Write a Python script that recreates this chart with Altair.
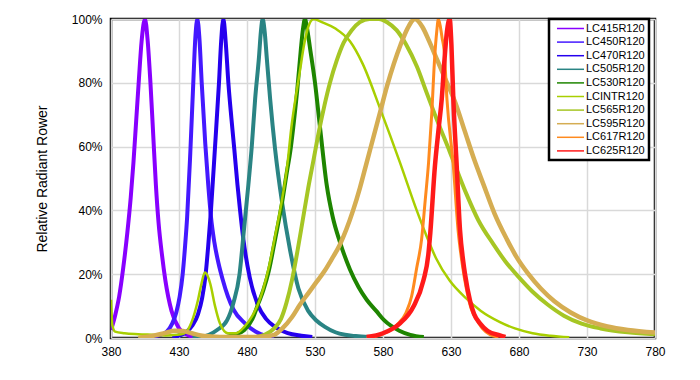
import altair as alt
import pandas as pd

series = ["LC415R120", "LC450R120", "LC470R120", "LC505R120", "LC530R120",
          "LCINTR120", "LC565R120", "LC595R120", "LC617R120", "LC625R120"]
colors = ["#8800FF", "#4418FF", "#2500EE", "#2A8484", "#1E8500",
          "#A8CF00", "#A6C624", "#D5AD52", "#FF8A1E", "#FF1A1A"]
widths = [4, 4, 4, 4, 4, 2.5, 4, 4.5, 3, 4.5]

LC415_nm = [380, 383, 386, 389, 392, 394.5, 396.5, 398.5, 400.5, 402.5, 405, 407, 409, 411, 413, 415, 417.5, 420, 424.5, 430, 436, 442]
LC415_val = [2.5, 7, 13, 22, 33, 44, 55, 68, 81, 93, 100, 93, 80, 64, 48, 36, 26, 18, 8.5, 3, 1, 0.2]

LC450_nm = [405, 415, 421, 425, 428, 430.5, 432.7, 434.5, 436, 438.3, 440.5, 442, 443.5, 445, 446.7, 449.3, 451.5, 453.5, 456, 459, 462, 466, 470, 478.5, 490, 500]
LC450_val = [0, 0.8, 2, 4.5, 8, 13, 20, 29, 38, 58, 80, 94, 100, 94, 80, 61, 48, 38, 30, 23.5, 18.5, 13, 9, 4.6, 1.2, 0.3]

LC470_nm = [425, 434, 440, 444, 447, 449.6, 451.5, 453.5, 456.5, 459.4, 461, 462.6, 464.3, 466.3, 468.5, 470.7, 473, 474.9, 477.3, 482, 488.3, 494, 500.6, 510, 520, 528]
LC470_val = [0.3, 1.5, 4, 7.5, 12.5, 20, 29, 40, 60, 80, 93, 100, 93, 80, 69, 59, 48, 40, 31, 19, 10, 6, 3.5, 1.5, 0.7, 0.3]

LC505_nm = [440, 452, 458, 465.4, 470, 474.5, 478, 481, 483.5, 486, 488.8, 490.2, 491.5, 493, 494.5, 497, 500.7, 505.6, 511.7, 517.8, 525, 531, 537.3, 545, 552, 560, 570]
LC505_val = [0, 1, 2.5, 5.6, 11, 20, 35, 48, 60, 75, 88, 96, 100, 96, 88, 75, 59, 43, 27.5, 15.5, 8.5, 5.5, 3.5, 1.8, 1, 0.6, 0.3]

LC530_nm = [465, 472, 478, 484, 488.5, 492, 496, 500.7, 505.6, 509.3, 512, 514, 517, 519.5, 521.2, 522.6, 524.2, 526.3, 530, 533.7, 538.6, 543, 548.4, 555.7, 562, 568, 575, 581, 592, 600, 610]
LC530_val = [0.3, 1.2, 2.5, 6, 11, 15, 21, 31, 42, 52, 59, 66, 78, 90, 97, 100, 97, 91, 80, 66, 48, 38, 30, 21.5, 16, 12, 8.5, 5.5, 2.3, 1, 0.3]

LCINTR_nm = [380, 381, 383, 390, 400, 410, 420, 428, 434, 439, 444, 446.5, 449, 451, 453, 456.5, 460, 466, 472, 478, 484, 488.5, 492, 496, 500.7, 505.6, 509.3, 512.9, 516, 519, 522, 525, 529, 535, 545, 555.7, 565, 577.8, 592.5, 604.8, 612, 619, 629, 641, 652, 666, 677, 690, 703, 717]
LCINTR_val = [12, 4, 2, 1.5, 1.2, 1, 0.8, 1, 1.5, 4.7, 12, 17, 20.5, 19.5, 17, 10, 4.7, 1.5, 1.5, 3.5, 7, 11, 15.5, 22, 32, 43, 53, 67, 76, 84, 92, 97.5, 100, 99, 97, 93, 86, 72, 55, 40, 32, 25, 18, 12.5, 8.5, 5, 3, 1.5, 0.7, 0.2]

LC565_nm = [485, 493, 500, 505, 509, 513, 517, 521, 525, 529, 533, 537, 541, 546, 551, 557, 563, 570, 577, 583, 590, 597, 605, 612, 620, 629, 641, 650, 661, 670, 680, 690, 701, 713, 726, 740, 760, 780]
LC565_val = [0.2, 1, 3, 6, 11, 18, 27, 37, 47, 56, 65, 73, 80, 87, 92.5, 96.5, 99, 100, 100, 99, 96.5, 92, 85, 77, 68, 58.5, 45.5, 37, 29.5, 24, 19, 14.5, 10.5, 7, 4.5, 3, 1.8, 1.2]

LC595_nm = [400, 410, 420, 427, 433, 439.3, 446, 453.9, 465, 480, 490.7, 500, 506, 513, 519, 525, 531, 537, 542, 548, 553, 558, 563, 568, 573, 578, 583, 588, 593, 598, 603.5, 609, 614, 620, 626, 633, 640, 647, 654, 662, 671, 678, 687, 696, 706, 718, 730, 745, 760, 780]
LC595_val = [0, 0.6, 1.6, 2.3, 2.2, 1.5, 0.8, 0.5, 0.3, 0.3, 0.4, 1, 3, 6.5, 10.5, 14, 17.5, 21, 24.5, 29, 34, 40, 47, 55, 63, 71, 79, 86, 92, 97, 100, 97.5, 93, 87, 81, 74, 65, 56, 48, 39, 31, 25.5, 20, 15.5, 11.5, 8, 5.5, 3.6, 2.5, 1.7]

LC617_nm = [568, 580, 590, 597, 601, 604.8, 608.4, 611, 613.5, 615.8, 618, 619.5, 620.7, 622, 623.5, 625, 627, 631.7, 635.4, 638, 641.5, 645, 649, 653, 659, 665]
LC617_val = [0, 1.3, 4, 8, 13, 22, 31, 43, 55, 70, 88, 96, 100, 98, 94, 90, 75, 54, 33, 24, 15, 9, 5.7, 3, 1, 0.3]

LC625_nm = [568, 580, 592.5, 602.3, 609.7, 613.3, 614.6, 618.2, 621, 623.2, 625, 627, 629, 630.3, 631.7, 634.2, 636.6, 639, 640.3, 644, 647, 651.3, 657, 666, 670]
LC625_val = [0.3, 1.5, 4.6, 9.8, 18, 26, 32, 54, 66, 75, 86, 96, 100, 92, 75, 54, 34, 24, 20, 11.7, 7.5, 4.6, 2.2, 0.8, 0.3]

x_ticks = [380, 430, 480, 530, 580, 630, 680, 730, 780]
y_ticks = [0, 20, 40, 60, 80, 100]

all_nm = [LC415_nm, LC450_nm, LC470_nm, LC505_nm, LC530_nm, LCINTR_nm, LC565_nm, LC595_nm, LC617_nm, LC625_nm]
all_val = [LC415_val, LC450_val, LC470_val, LC505_val, LC530_val, LCINTR_val, LC565_val, LC595_val, LC617_val, LC625_val]

rows = []
for s, nms, vals in zip(series, all_nm, all_val):
    for i, (n, v) in enumerate(zip(nms, vals)):
        rows.append({"series": s, "nm": n, "val": v, "i": i})
df = pd.DataFrame(rows)

FONT = "Liberation Sans"

color_enc = alt.Color(
    "series:N",
    scale=alt.Scale(domain=series, range=colors),
    legend=alt.Legend(
        title=None, orient="none", legendX=438, legendY=0,
        symbolType="M-1,0L5,0", symbolSize=81, symbolStrokeWidth=1.5,
        symbolOffset=3, labelOffset=19,
        labelFont=FONT, labelFontSize=11, labelColor="black",
        rowPadding=1.6, padding=4,
        strokeColor="black", fillColor="white",
    ),
)

layers = []
for s, w in zip(series, widths):
    layers.append(
        alt.Chart(df)
        .transform_filter(alt.datum.series == s)
        .mark_line(strokeWidth=w, interpolate="monotone", clip=True)
        .encode(
            x=alt.X("nm:Q", scale=alt.Scale(domain=[380, 780], nice=False),
                    axis=alt.Axis(values=x_ticks, title=None, grid=True, ticks=False,
                                  domain=False, labelPadding=8, labelFont=FONT,
                                  labelFontSize=12, labelColor="black",
                                  gridColor="#d9d9d9", gridWidth=1.5,
                                  labelOverlap=False, labelFlush=False)),
            y=alt.Y("val:Q", scale=alt.Scale(domain=[0, 100], nice=False),
                    axis=alt.Axis(values=y_ticks, title="Relative Radiant Rower",
                                  labelExpr="datum.value + '%'", grid=True, ticks=False,
                                  domain=False, labelPadding=9, labelFont=FONT,
                                  labelFontSize=12, labelColor="black",
                                  gridColor="#d9d9d9", gridWidth=1.5,
                                  titleFont=FONT, titleFontSize=14, titleFontWeight="normal",
                                  titleColor="black", titlePadding=22)),
            color=color_enc,
            order="i:Q",
        )
    )

chart = (
    alt.layer(*layers)
    .properties(width=544, height=319,
                autosize=alt.AutoSizeParams(type="none"),
                padding={"left": 103, "top": 11, "right": 30, "bottom": 30})
    .configure_view(stroke="black", strokeWidth=2.5)
    .configure_legend(strokeWidth=2.5)
)

chart.save("out.html", embed_options={"renderer": "svg", "actions": False})
